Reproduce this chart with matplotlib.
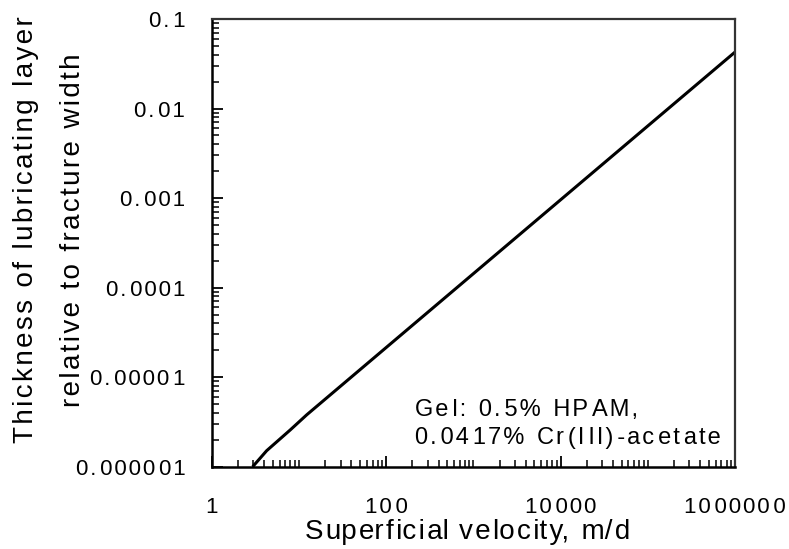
import matplotlib
matplotlib.use("Agg")
import numpy as np
import matplotlib.pyplot as plt
from matplotlib.ticker import LogLocator, FixedLocator, NullFormatter, FixedFormatter

plt.rcParams['font.family'] = ['Liberation Sans', 'DejaVu Sans']

# Data
velocity = [2.95, 4.27, 7.94, 12.3, 1.0e6]
thickness = [1.0e-6, 1.51e-6, 2.57e-6, 3.8e-6, 0.0427]

x_tick_values = [1, 100, 10000, 1000000]
x_tick_labels = ["1", "100", "10000", "1000000"]
y_tick_values = [1e-6, 1e-5, 1e-4, 1e-3, 1e-2, 1e-1]
y_tick_labels = ["0.000001", "0.00001", "0.0001", "0.001", "0.01", "0.1"]

x_title = "Superficial velocity, m/d"
y_title = ["Thickness of lubricating layer", "relative to fracture width"]
note = ["Gel: 0.5% HPAM,", "0.0417% Cr(III)-acetate"]

W, H = 789, 549
fig = plt.figure(figsize=(W / 100, H / 100), dpi=100)
renderer = fig.canvas.get_renderer()

# letter-spacing helper (reference text is tracked out)
HS = '\u200a'

def track(s, per_gap):
    out = s[0]
    acc = 0.0
    for c in s[1:]:
        acc += per_gap
        k = int(round(acc))
        acc -= k
        out += HS * k + c
    return out

def fit(s, size, target):
    best = None
    for q in np.arange(0, 4.01, 0.125):
        t = fig.text(0, 0, track(s, q), fontsize=size)
        w = t.get_window_extent(renderer).width
        t.remove()
        d = abs(w - target)
        if best is None or d < best[0]:
            best = (d, q)
    return best[1]

def px(x, y):
    return x / W, 1 - y / H

L, R, T, B = 211.7, 735.0, 19.0, 466.7
ax = fig.add_axes([L / W, 1 - B / H, (R - L) / W, (B - T) / H])

ax.plot(velocity, thickness, color='black', lw=2.2, solid_capstyle='butt')

ax.set_xscale('log')
ax.set_yscale('log')
ax.set_xlim(1, 1e6)
ax.set_ylim(1e-6, 0.1)

tick_size = 16
tq = fit("0.000001", tick_size, 110)

ax.xaxis.set_major_locator(FixedLocator(x_tick_values))
ax.xaxis.set_major_formatter(FixedFormatter([track(s, tq) for s in x_tick_labels]))
ax.xaxis.set_minor_locator(LogLocator(base=10, subs=range(1, 10), numticks=100))
ax.xaxis.set_minor_formatter(NullFormatter())

ax.yaxis.set_major_locator(FixedLocator(y_tick_values))
ax.yaxis.set_major_formatter(FixedFormatter([track(s, tq) for s in y_tick_labels]))
ax.yaxis.set_minor_locator(LogLocator(base=10, subs=range(2, 10), numticks=100))
ax.yaxis.set_minor_formatter(NullFormatter())

ax.tick_params(which='major', direction='in', length=8, width=1.3, labelsize=tick_size,
               top=False, right=False)
ax.tick_params(which='minor', direction='in', length=5, width=1.1,
               top=False, right=False)
ax.tick_params(axis='x', which='major', pad=22)
ax.tick_params(axis='y', which='major', pad=19)

for side in ['left', 'bottom']:
    ax.spines[side].set_linewidth(1.8)
    ax.spines[side].set_color('black')
for side in ['top', 'right']:
    ax.spines[side].set_linewidth(1.6)
    ax.spines[side].set_color('#333333')

label_size = 20
xq = fit(x_title, label_size, 328)
fig.text(*px(468, 532), track(x_title, xq), fontsize=label_size,
         ha='center', va='center')

yq = fit(y_title[0], label_size, 428)
fig.text(*px(50, 230), "\n".join(track(s, yq) for s in y_title),
         fontsize=label_size, rotation=90, ha='center', va='center',
         multialignment='center', linespacing=2.05)

note_size = 17
nq = fit(note[1], note_size, 307)
fig.text(*px(415, 424), "\n".join(track(s, nq) for s in note),
         fontsize=note_size, ha='left', va='center', linespacing=1.35)

fig.savefig("out.png", dpi=100)
